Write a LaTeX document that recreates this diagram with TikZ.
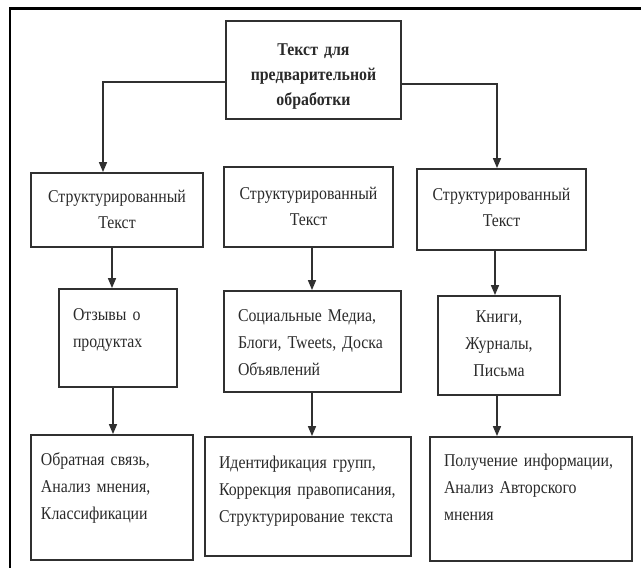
\documentclass[tikz,border=0pt]{standalone}
\usepackage{fontspec}
\setmainfont{Liberation Serif}[FakeStretch=0.88]
\usetikzlibrary{arrows.meta}
\definecolor{linec}{HTML}{303030}
\definecolor{textc}{HTML}{2A2A2A}
\tikzstyle{arrow} = [line width=1.5pt, draw=linec, -{Triangle[length=10pt,width=8pt]}]
\tikzstyle{box} = [rectangle, draw=linec, line width=1.8pt, inner ysep=0pt, text=textc]
\tikzstyle{ctext} = [box, align=center, font=\fontsize{18}{26}\selectfont]
\tikzstyle{ltext} = [box, align=left, font=\fontsize{18}{27}\selectfont]

\begin{document}
\begin{tikzpicture}[x=1pt, y=1pt]
		\useasboundingbox (0,0) rectangle (641,-568);
		\draw [line width=2.5pt, black] (10,-568) -- (10,-8.5) -- (641,-8.5);
		\node (top) [ctext, font=\fontsize{18}{25}\selectfont\bfseries, inner xsep=5pt, text width=165pt, text height=34pt, text depth=64pt] at (313.5,-70) {Текст для\\предварительной\\обработки};
		\node (struct1) [ctext, below of=top, node distance=140pt, xshift=-196.5pt, inner xsep=5pt, text width=162pt, text height=29pt, text depth=45pt] {Структурированный\\Текст};
		\node (struct2) [ctext, below of=top, node distance=137pt, xshift=-5pt, inner xsep=5pt, text width=159pt, text height=32pt, text depth=48pt] {Структурированный\\Текст};
		\node (struct3) [ctext, below of=top, node distance=139.5pt, xshift=188pt, inner xsep=5pt, text width=159pt, text height=31pt, text depth=50pt] {Структурированный\\Текст};
		\node (reviews) [ltext, below of=struct1, node distance=128pt, xshift=1pt, inner xsep=14pt, text width=90pt, text height=31pt, text depth=67pt] {Отзывы о\\продуктах};
		\node (media) [ltext, below of=struct2, node distance=134.5pt, xshift=4pt, inner xsep=14pt, text width=149pt, text height=30pt, text depth=71pt] {Социальные Медиа,\\Блоги, Tweets, Доска\\Объявлений};
		\node (books) [ctext, font=\fontsize{18}{27}\selectfont, below of=struct3, node distance=136pt, xshift=-2.5pt, inner xsep=5pt, text width=112pt, text height=26pt, text depth=73pt] {Книги,\\Журналы,\\Письма};
		\node (feedback) [ltext, below of=reviews, node distance=159.5pt, xshift=-6pt, inner xsep=10pt, text width=142pt, text height=30pt, text depth=95pt] {Обратная связь,\\Анализ мнения,\\Классификации};
		\node (groups) [ltext, below of=media, node distance=155pt, xshift=-4.5pt, inner xsep=14pt, text width=178pt, text height=31pt, text depth=88pt] {Идентификация групп,\\Коррекция правописания,\\Структурирование текста};
		\node (extract) [ltext, below of=books, node distance=153.5pt, xshift=32pt, inner xsep=14pt, text width=174pt, text height=29pt, text depth=95pt] {Получение информации,\\Анализ Авторского\\мнения};
		\draw [arrow] ([yshift=-12pt]top.west) -| ([xshift=-14pt]struct1.north);
		\draw [arrow] ([yshift=-14pt]top.east) -| ([xshift=-4.5pt]struct3.north);
		\draw [arrow] ([xshift=-5pt]struct1.south) -- ([xshift=-6pt]reviews.north);
		\draw [arrow] ([xshift=3.5pt]struct2.south) -- ([xshift=-0.5pt]media.north);
		\draw [arrow] ([xshift=-6.5pt]struct3.south) -- ([xshift=-4pt]books.north);
		\draw [arrow] ([xshift=-5pt]reviews.south) -- ([xshift=1pt]feedback.north);
		\draw [arrow] ([xshift=-0.5pt]media.south) -- ([xshift=4pt]groups.north);
		\draw [arrow] ([xshift=-2pt]books.south) -- ([xshift=-34pt]extract.north);
	\end{tikzpicture}
\end{document}
